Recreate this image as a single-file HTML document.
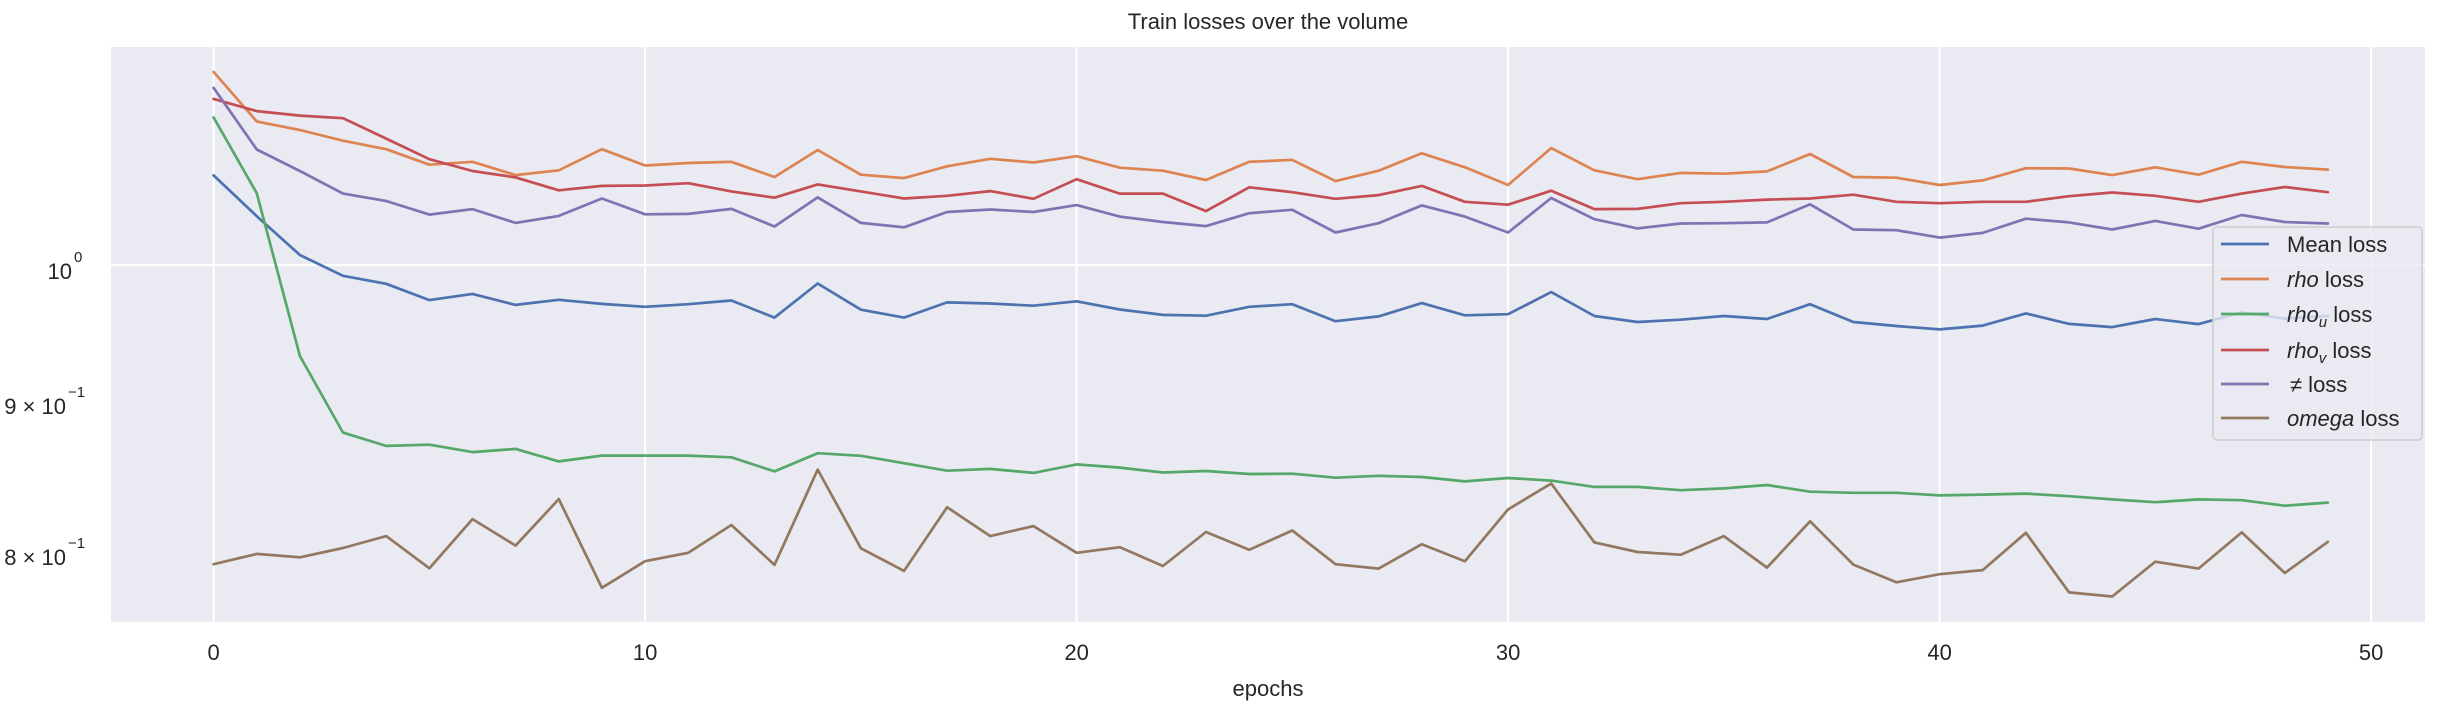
<!DOCTYPE html>
<html><head><meta charset="utf-8"><style>
body{margin:0;background:#fff;}
svg text{font-family:"Liberation Sans","DejaVu Sans",sans-serif;fill:#262626;}
</style></head><body>
<svg id="chart" width="2448" height="709" viewBox="0 0 2448 709" xmlns="http://www.w3.org/2000/svg">
<rect x="111" y="47" width="2314" height="575" fill="#eaeaf2"/>
<g id="grid"></g>
<g id="xticks"></g>
<g id="yticks">
<text x="72" y="279" font-size="22" text-anchor="end">10</text>
<text x="74" y="262" font-size="15">0</text>
<text x="66" y="414" font-size="22" text-anchor="end">9 × 10</text>
<text x="68" y="397" font-size="15">−1</text>
<text x="66" y="565" font-size="22" text-anchor="end">8 × 10</text>
<text x="68" y="548" font-size="15">−1</text>
</g>
<g id="series"></g>
<text x="1268" y="29" font-size="22" text-anchor="middle">Train losses over the volume</text>
<text x="1268" y="696" font-size="22" text-anchor="middle">epochs</text>
<g>
<rect x="2213" y="227" width="209" height="213" rx="4" fill="#eaeaf2" fill-opacity="0.8" stroke="#cccccc" stroke-width="1.5"/>
<g id="legend-items"></g>
</g>
</svg>
<script>
const epochs = Array.from({length:50},(_,i)=>i);
const xTicks = [0,10,20,30,40,50];
const yGridValues = [1.0];
const meanLoss = [1.0724,1.0388,1.0078,0.9916,0.9854,0.9730,0.9777,0.9693,0.9732,0.9701,0.9679,0.9699,0.9727,0.9598,0.9857,0.9657,0.9598,0.9712,0.9704,0.9687,0.9721,0.9659,0.9618,0.9612,0.9679,0.9699,0.9571,0.9607,0.9707,0.9615,0.9623,0.9791,0.9610,0.9565,0.9582,0.9610,0.9587,0.9699,0.9565,0.9535,0.9510,0.9538,0.9629,0.9551,0.9527,0.9587,0.9549,0.9637,0.9590,0.9610];
const rhoLoss = [1.1627,1.1185,1.1111,1.1019,1.0946,1.0814,1.0839,1.0727,1.0767,1.0946,1.0808,1.0829,1.0839,1.0711,1.0939,1.0730,1.0702,1.0801,1.0864,1.0833,1.0886,1.0789,1.0764,1.0686,1.0839,1.0855,1.0677,1.0764,1.0911,1.0792,1.0644,1.0955,1.0767,1.0693,1.0745,1.0739,1.0758,1.0905,1.0711,1.0705,1.0644,1.0683,1.0785,1.0782,1.0727,1.0792,1.0730,1.0839,1.0795,1.0773];
const rhoULoss = [1.1221,1.0576,0.9314,0.8774,0.8683,0.8691,0.8641,0.8663,0.8579,0.8618,0.8618,0.8618,0.8606,0.8512,0.8634,0.8616,0.8567,0.8517,0.8529,0.8502,0.8559,0.8537,0.8505,0.8515,0.8495,0.8497,0.8470,0.8483,0.8475,0.8446,0.8468,0.8451,0.8410,0.8410,0.8388,0.8400,0.8422,0.8378,0.8371,0.8371,0.8354,0.8359,0.8366,0.8349,0.8328,0.8310,0.8328,0.8323,0.8287,0.8307];
const rhoVLoss = [1.1384,1.1276,1.1237,1.1214,1.1037,1.0861,1.0761,1.0708,1.0600,1.0637,1.0640,1.0659,1.0591,1.0539,1.0649,1.0591,1.0533,1.0555,1.0594,1.0530,1.0693,1.0573,1.0573,1.0430,1.0625,1.0585,1.0530,1.0561,1.0637,1.0506,1.0482,1.0597,1.0446,1.0448,1.0494,1.0506,1.0524,1.0533,1.0564,1.0506,1.0494,1.0506,1.0506,1.0552,1.0582,1.0555,1.0506,1.0573,1.0628,1.0585];
const neLoss = [1.1483,1.0943,1.0761,1.0573,1.0512,1.0401,1.0446,1.0334,1.0391,1.0533,1.0404,1.0407,1.0448,1.0305,1.0542,1.0334,1.0299,1.0422,1.0443,1.0422,1.0479,1.0385,1.0341,1.0308,1.0413,1.0440,1.0257,1.0332,1.0476,1.0385,1.0257,1.0537,1.0364,1.0290,1.0329,1.0332,1.0338,1.0485,1.0281,1.0275,1.0216,1.0254,1.0368,1.0338,1.0281,1.0350,1.0287,1.0398,1.0341,1.0329];
const omegaLoss = [0.7917,0.7981,0.7960,0.8018,0.8093,0.7892,0.8201,0.8033,0.8330,0.7773,0.7936,0.7988,0.8163,0.7913,0.8524,0.8016,0.7876,0.8277,0.8093,0.8156,0.7988,0.8023,0.7906,0.8119,0.8007,0.8128,0.7917,0.7890,0.8042,0.7936,0.8263,0.8432,0.8053,0.7993,0.7976,0.8093,0.7896,0.8187,0.7915,0.7806,0.7856,0.7881,0.8114,0.7745,0.7720,0.7933,0.7890,0.8116,0.7863,0.8057];

const NS='http://www.w3.org/2000/svg';
const PL=111, PR=2425, PT=47, PB=622;
function xScale(e){ return 213.6 + e*43.15; }
function yScale(v){ return 265 - 2950*Math.log10(v); }
function mk(tag, attrs, parent){ const el=document.createElementNS(NS,tag); for(const k in attrs) el.setAttribute(k,attrs[k]); parent.appendChild(el); return el; }

const grid=document.getElementById('grid');
xTicks.forEach(t=>{
  const l=mk('line',{x1:xScale(t),x2:xScale(t),y1:PT,y2:PB,stroke:'#ffffff','stroke-width':2},grid);
  
  
  const tx=mk('text',{x:xScale(t),y:660,'font-size':22,'text-anchor':'middle'},document.getElementById('xticks'));
  tx.textContent=String(t);
  
  
});
yGridValues.forEach(v=>{
  const l=mk('line',{x1:PL,x2:PR,y1:yScale(v),y2:yScale(v),stroke:'#ffffff','stroke-width':2},grid);
  
  
});

const seriesList=[
  {name:'mean-loss',data:meanLoss,color:'#4c72b0'},
  {name:'rho-loss',data:rhoLoss,color:'#dd8452'},
  {name:'rho-u-loss',data:rhoULoss,color:'#55a868'},
  {name:'rho-v-loss',data:rhoVLoss,color:'#c44e52'},
  {name:'ne-loss',data:neLoss,color:'#8172b3'},
  {name:'omega-loss',data:omegaLoss,color:'#937860'}
];
const sg=document.getElementById('series');
seriesList.forEach(s=>{
  const pts=s.data.map((v,i)=>xScale(epochs[i]).toFixed(1)+','+yScale(v).toFixed(1)).join(' ');
  const p=mk('polyline',{points:pts,fill:'none',stroke:s.color,'stroke-width':2.7,'stroke-linejoin':'round','stroke-linecap':'round'},sg);
  
  
});

const lg=document.getElementById('legend-items');
const rows=[244,279,314,350,384,418];
const legendHtml=[
  'Mean loss',
  '<tspan font-style="italic">rho</tspan> loss',
  '<tspan font-style="italic">rho<tspan font-size="15" dy="5">u</tspan></tspan><tspan dy="-5"> loss</tspan>',
  '<tspan font-style="italic">rho<tspan font-size="15" dy="5">v</tspan></tspan><tspan dy="-5"> loss</tspan>',
  ' ≠  loss',
  '<tspan font-style="italic">omega</tspan> loss'
];
seriesList.forEach((s,i)=>{
  const l=mk('line',{x1:2221,x2:2269,y1:rows[i],y2:rows[i],stroke:s.color,'stroke-width':2.7},lg);
  
  
  const t=mk('text',{x:2287,y:rows[i]+8,'font-size':22,'xml:space':'preserve'},lg);
  t.innerHTML=legendHtml[i];
  if(i===4){ t.setAttribute('x',2290); }
  
  
});
</script>
</body></html>
